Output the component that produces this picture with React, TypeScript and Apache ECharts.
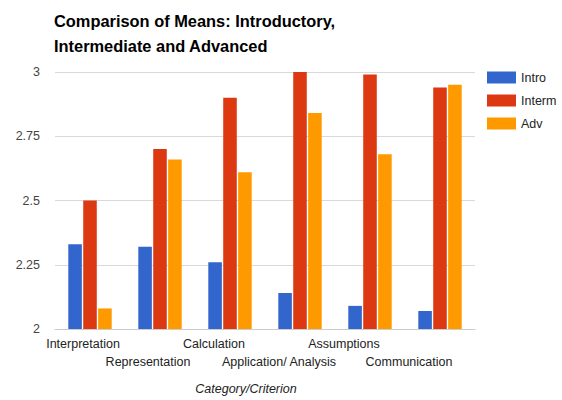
import React, { useEffect, useRef } from "react";
import * as echarts from "echarts";

const categories = [
  "Interpretation",
  "Representation",
  "Calculation",
  "Application/ Analysis",
  "Assumptions",
  "Communication",
];
const seriesNames = ["Intro", "Interm", "Adv"];
const introValues = [2.33, 2.32, 2.26, 2.14, 2.09, 2.07];
const intermValues = [2.5, 2.7, 2.9, 3.0, 2.99, 2.94];
const advValues = [2.08, 2.66, 2.61, 2.84, 2.68, 2.95];
const yMin = 2;
const yMax = 3;
const yInterval = 0.25;

const colors = ["#3366cc", "#dc3912", "#ff9900"];
const labelShift = [7, 12, 16, 21, 26, 31];
const FONT = "'Liberation Sans', Arial, sans-serif";
const FS = 12.5;

export default function App() {
  const ref = useRef<HTMLDivElement>(null);
  useEffect(() => {
    if (!ref.current) return;
    const chart = echarts.init(ref.current, undefined, { renderer: "svg" });
    const rich: Record<string, any> = {};
    categories.forEach((_, i) => {
      rich["r" + i] = {
        fontFamily: FONT,
        fontSize: FS,
        color: "#222",
        lineHeight: 18,
        padding: [0, labelShift[i] * 2, 0, 0],
      };
    });
    const data = [introValues, intermValues, advValues];
    chart.setOption({
      animation: false,
      color: colors,
      textStyle: { fontFamily: FONT },
      title: {
        text: "Comparison of Means: Introductory,\nIntermediate and Advanced",
        left: 54,
        top: 8.5,
        padding: 0,
        textStyle: {
          fontFamily: FONT,
          fontSize: 16.4,
          fontWeight: "bold",
          color: "#000",
          lineHeight: 25,
        },
      },
      legend: {
        orient: "vertical",
        left: 487,
        top: 71,
        padding: 0,
        itemWidth: 29,
        itemHeight: 12,
        itemGap: 10,
        icon: "rect",
        data: seriesNames,
        textStyle: { fontFamily: FONT, fontSize: FS, color: "#222" },
      },
      grid: { left: 55, right: 87, top: 72, bottom: 68 },
      xAxis: {
        type: "category",
        data: categories,
        axisTick: { show: false },
        axisLine: { show: true, lineStyle: { color: "#ccc" } },
        axisLabel: {
          interval: 0,
          margin: 6,
          lineHeight: 18,
          fontSize: FS,
          color: "#222",
          formatter: (v: string, i: number) =>
            (i % 2 === 1 ? "\n" : "") + "{r" + i + "|" + v + "}",
          rich,
        },
        name: "Category/Criterion",
        nameLocation: "middle",
        nameGap: 53,
        nameTextStyle: {
          fontFamily: FONT,
          fontSize: FS,
          fontStyle: "italic",
          color: "#222",
          padding: [0, 38, 0, 0],
        },
      },
      yAxis: {
        type: "value",
        min: yMin,
        max: yMax,
        interval: yInterval,
        axisLine: { show: false },
        axisTick: { show: false },
        splitLine: { lineStyle: { color: "#d9d9d9" } },
        axisLabel: {
          margin: 15,
          fontSize: FS,
          color: "#444",
          fontFamily: FONT,
        },
      },
      series: seriesNames.map((name, k) => ({
        name,
        type: "bar",
        data: data[k],
        barGap: "10%",
        barCategoryGap: "38%",
        itemStyle: { color: colors[k] },
      })),
    });
    return () => chart.dispose();
  }, []);
  return (
    <div
      ref={ref}
      style={{ position: "absolute", left: 0, top: 0, width: 562, height: 400 }}
    />
  );
}
